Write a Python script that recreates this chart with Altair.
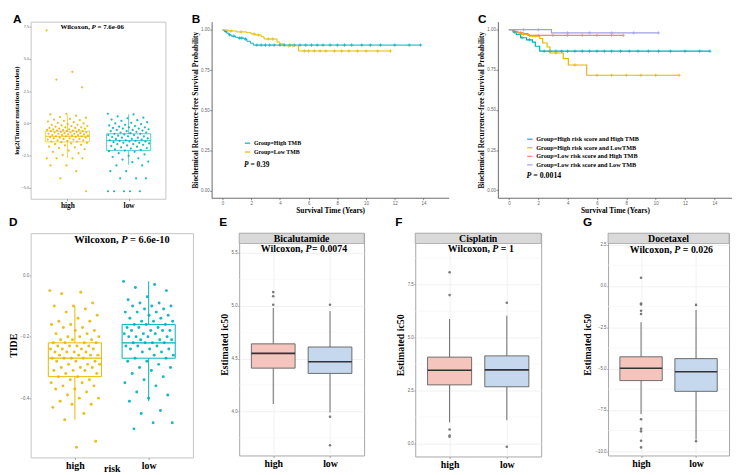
import altair as alt
import pandas as pd

SERIF = "Liberation Serif"
SANS = "Liberation Sans"
GOLD = "#E7B800"
TEAL = "#00AFBB"
SALMON = "#F4886B"
LAVENDER = "#A0A0E6"
PINK = "#F5C5BD"
LIGHTBLUE = "#C6D8EE"
STRIP_H = 10.5

groups = ["high", "low"]
group_pos = [1, 2]

# ---------------- Panel A : log2(TMB) by risk group ----------------
a_letter = "A"
a_ytitle = "log2(Tumor mutation burden)"
a_stat = ["Wilcoxon,", "P", "= 7.6e-06"]
a_high = [7.2, 4.0, 3.4, 2.8, 0.75, 0.7, 0.6, 0.5, 0.45, 0.35, 0.3, 0.25, 0.2, 0.15, 0.1, 0.05, 0.0,
          -0.05, -0.1, -0.1, -0.15, -0.2, -0.2, -0.25, -0.3, -0.3, -0.35, -0.35, -0.4, -0.4, -0.45,
          -0.45, -0.5, -0.5, -0.5, -0.55, -0.55, -0.6, -0.6, -0.6, -0.65, -0.65, -0.7, -0.7, -0.7,
          -0.75, -0.75, -0.8, -0.8, -0.8, -0.85, -0.85, -0.9, -0.9, -0.9, -0.95, -0.95, -1.0, -1.0,
          -1.0, -1.05, -1.05, -1.1, -1.1, -1.15, -1.15, -1.2, -1.2, -1.25, -1.25, -1.3, -1.3, -1.35,
          -1.4, -1.4, -1.45, -1.5, -1.55, -1.6, -1.65, -1.7, -1.8, -1.85, -1.9, -2.0, -2.1, -2.2,
          -2.3, -2.45, -2.7, -2.7, -2.7, -2.7, -3.25, -3.25, -3.7, -4.25, -5.25]
a_low = [0.75, 0.7, 0.55, 0.45, 0.4, 0.3, 0.25, 0.2, 0.1, 0.05, 0.0, -0.05, -0.1, -0.15, -0.2, -0.25,
         -0.3, -0.3, -0.35, -0.4, -0.4, -0.45, -0.5, -0.5, -0.55, -0.6, -0.6, -0.65, -0.7, -0.7, -0.75,
         -0.8, -0.8, -0.85, -0.9, -0.9, -0.95, -1.0, -1.0, -1.05, -1.1, -1.1, -1.15, -1.2, -1.2, -1.25,
         -1.3, -1.3, -1.35, -1.35, -1.4, -1.4, -1.45, -1.5, -1.5, -1.55, -1.6, -1.6, -1.65, -1.7, -1.75,
         -1.8, -1.85, -1.9, -1.95, -2.0, -2.05, -2.1, -2.15, -2.2, -2.3, -2.4, -2.5, -2.6, -2.7, -2.8,
         -2.95, -3.0, -3.25, -3.25, -3.7, -3.7, -4.25, -4.25, -4.25, -5.25, -5.25, -5.25, -5.25, -5.25]
a_q1 = [-1.43, -2.09]
a_med = [-1.0, -1.33]
a_q3 = [-0.6, -0.8]
a_lo = [-2.69, -3.2]
a_hi = [0.7, 0.7]
a_ydom = [-5.83, 7.88]
a_yticks = [-5.0, -2.5, 0.0, 2.5, 5.0, 7.5]

# ---------------- Panel B : KM by TMB ----------------
b_letter = "B"
b_names = ["Group=High TMB", "Group=Low TMB"]
b_high_t = [0, 0.15, 0.3, 0.45, 0.6, 0.9, 1.07, 1.5, 1.7, 1.95, 2.15, 13.8]
b_high_s = [1.0, 0.99, 0.98, 0.97, 0.962, 0.955, 0.95, 0.944, 0.93, 0.918, 0.906, 0.906]
b_low_t = [0, 0.4, 1.0, 1.7, 2.0, 2.3, 2.7, 2.9, 3.8, 4.0, 4.3, 5.3, 11.7]
b_low_s = [1.0, 0.994, 0.988, 0.983, 0.975, 0.969, 0.958, 0.944, 0.925, 0.913, 0.902, 0.869, 0.869]
b_high_cens = [0.25, 0.5, 0.8, 1.2, 1.35, 1.6, 2.4, 2.7, 3.0, 3.3, 3.6, 4.0, 4.3, 4.7, 5.0, 5.4, 5.8,
               6.2, 6.6, 7.0, 7.5, 8.0, 8.5, 9.0, 9.7, 10.3, 11.0, 12.0, 13.0, 13.8]
b_low_cens = [0.6, 1.3, 2.2, 2.5, 3.2, 3.5, 4.6, 4.9, 5.7, 6.0, 6.4, 6.8, 7.2, 7.8, 8.3, 8.8, 9.4,
              10.0, 10.8, 11.7]
b_p = ["P", "= 0.39"]

# ---------------- Panel C : KM by risk x TMB ----------------
c_letter = "C"
c_names = ["Group=High risk score and High TMB", "Group=High risk score and LowTMB",
           "Group=Low risk score and High TMB", "Group=Low risk score and Low TMB"]
c_hh_t = [0, 0.3, 0.5, 0.8, 1.2, 1.6, 1.8, 2.1, 13.7]
c_hh_s = [1.0, 0.985, 0.97, 0.95, 0.937, 0.922, 0.897, 0.866, 0.866]
c_hl_t = [0, 0.4, 0.85, 1.4, 2.1, 2.3, 2.6, 2.8, 3.7, 4.05, 5.3, 11.6]
c_hl_s = [1.0, 0.984, 0.97, 0.96, 0.945, 0.917, 0.892, 0.855, 0.82, 0.78, 0.716, 0.716]
c_lh_t = [0, 0.25, 0.6, 1.0, 1.3, 7.8]
c_lh_s = [1.0, 0.99, 0.98, 0.975, 0.965, 0.965]
c_ll_t = [0, 2.9, 10.2]
c_ll_s = [1.0, 0.98, 0.98]
c_hh_cens = [0.4, 0.9, 1.4, 2.4, 2.8, 3.2, 3.6, 4.0, 4.5, 5.0, 5.5, 6.0, 6.5, 7.0, 7.6, 8.2, 8.8, 9.5,
             10.2, 11.0, 12.0, 13.0, 13.7]
c_hl_cens = [1.0, 1.8, 3.2, 4.5, 6.0, 7.0, 8.0, 9.0, 10.0, 11.6]
c_lh_cens = [0.8, 2.0, 3.0, 4.0, 5.0, 6.0, 7.0, 7.8]
c_ll_cens = [1.0, 2.0, 4.0, 5.5, 7.0, 8.5, 10.2]
c_p = ["P", "= 0.0014"]

km_xtitle = "Survival Time (Years)"
km_ytitle = "Biochemical Recurrence-free Survival Probability"
km_xticks = [0, 2, 4, 6, 8, 10, 12, 14]
km_yticks = [0.0, 0.25, 0.5, 0.75, 1.0]

# ---------------- Panel D : TIDE by risk ----------------
d_letter = "D"
d_stat = ["Wilcoxon,", "P", "= 6.6e-10"]
d_high = [-0.05, -0.055, -0.06, -0.09, -0.10, -0.10, -0.11, -0.12, -0.13, -0.14, -0.15, -0.15, -0.16,
          -0.16, -0.17, -0.17, -0.18, -0.18, -0.19, -0.19, -0.20, -0.20, -0.20, -0.21, -0.21, -0.21,
          -0.22, -0.22, -0.22, -0.22, -0.23, -0.23, -0.23, -0.23, -0.24, -0.24, -0.24, -0.24, -0.25,
          -0.25, -0.25, -0.25, -0.26, -0.26, -0.26, -0.26, -0.27, -0.27, -0.27, -0.27, -0.28, -0.28,
          -0.28, -0.29, -0.29, -0.29, -0.30, -0.30, -0.30, -0.31, -0.31, -0.31, -0.32, -0.32, -0.33,
          -0.33, -0.34, -0.34, -0.35, -0.35, -0.36, -0.36, -0.37, -0.37, -0.38, -0.39, -0.40, -0.40,
          -0.41, -0.42, -0.42, -0.43, -0.45, -0.47, -0.54, -0.56]
d_low = [-0.02, -0.03, -0.04, -0.05, -0.07, -0.08, -0.09, -0.09, -0.10, -0.10, -0.10, -0.11, -0.11,
         -0.12, -0.12, -0.12, -0.13, -0.13, -0.14, -0.14, -0.15, -0.15, -0.15, -0.16, -0.16, -0.16,
         -0.17, -0.17, -0.17, -0.18, -0.18, -0.18, -0.18, -0.19, -0.19, -0.19, -0.20, -0.20, -0.20,
         -0.20, -0.21, -0.21, -0.21, -0.22, -0.22, -0.22, -0.22, -0.23, -0.23, -0.23, -0.24, -0.24,
         -0.24, -0.25, -0.25, -0.26, -0.26, -0.27, -0.27, -0.28, -0.28, -0.29, -0.30, -0.30, -0.31,
         -0.32, -0.33, -0.34, -0.35, -0.36, -0.38, -0.39, -0.40, -0.41, -0.44, -0.45, -0.48, -0.48, -0.50]
d_q1 = [-0.33, -0.27]
d_med = [-0.27, -0.22]
d_q3 = [-0.22, -0.16]
d_lo = [-0.47, -0.41]
d_hi = [-0.10, -0.02]
d_ydom = [-0.593, 0.137]
d_yticks = [-0.4, -0.2, 0.0]

# ---------------- Panels E, F, G : drug sensitivity ----------------
e_letter, e_drug = "E", "Bicalutamide"
e_stat = ["Wilcoxon,", "P", "= 0.0074"]
e_q1 = [4.41, 4.36]; e_med = [4.55, 4.47]; e_q3 = [4.64, 4.61]; e_lo = [4.07, 3.99]; e_hi = [4.98, 4.95]
e_out_high = [5.13, 5.09, 5.01]
e_out_low = [5.01, 3.95, 3.68]
e_ydom = [3.583, 5.688]
e_yticks = [4.0, 4.5, 5.0, 5.5]
e_minor = [3.75, 4.25, 4.75, 5.25]

f_letter, f_drug = "F", "Cisplatin"
f_stat = ["Wilcoxon,", "P", "= 1"]
f_q1 = [2.77, 2.68]; f_med = [3.46, 3.48]; f_q3 = [4.08, 4.14]; f_lo = [1.0, 1.1]; f_hi = [5.88, 6.04]
f_out_high = [8.09, 7.01, 0.66, 0.38, 0.32]
f_out_low = [6.65, -0.15]
f_ydom = [-0.61, 9.935]
f_yticks = [0.0, 2.5, 5.0, 7.5]
f_minor = [1.25, 3.75, 6.25, 8.75]

g_letter, g_drug = "G", "Docetaxel"
g_stat = ["Wilcoxon,", "P", "= 0.026"]
g_q1 = [-5.73, -6.38]; g_med = [-4.98, -5.19]; g_q3 = [-4.29, -4.4]; g_lo = [-7.76, -9.3]; g_hi = [-2.2, -1.45]
g_out_high = [0.49, -1.07, -1.12, -1.5, -1.7, -8.07, -8.64, -8.8, -9.37, -9.77]
g_out_low = [-1.15, -9.4]
g_ydom = [-10.26, 3.19]
g_yticks = [-10.0, -7.5, -5.0, -2.5, 0.0, 2.5]
g_minor = [-8.75, -6.25, -3.75, -1.25, 1.25]

ic50_title = "Estimated ic50"


# ======================= helpers =======================
def pts_df(vals_by_group):
    rows = []
    for g, p, vals in zip(groups, group_pos, vals_by_group):
        for i, v in enumerate(vals):
            rows.append({"group": g, "pos": p, "value": v, "idx": i})
    return pd.DataFrame(rows)


def box_df(q1, med, q3, lo, hi):
    return pd.DataFrame({"group": groups, "pos": group_pos, "q1": q1, "med": med,
                         "q3": q3, "lo": lo, "hi": hi})


def letter_title(letter, offset):
    return alt.TitleParams(text=letter, anchor="start", frame="bounds", font=SANS, fontSize=12,
                           fontWeight="bold", color="black", offset=offset)


def stat_layers(parts, px, py, fs, space_after_p=True):
    wp = 0.611 * fs
    sp = 0.25 * fs
    specs = [(parts[0], px - sp, "right", "normal"),
             (parts[1], px, "left", "italic"),
             (parts[2], px + wp + (sp if space_after_p else 0.5), "left", "normal")]
    out = []
    for txt, x, al, st in specs:
        out.append(alt.Chart(pd.DataFrame({"t": [txt]})).mark_text(
            align=al, baseline="middle", font=SERIF, fontSize=fs, fontWeight="bold",
            fontStyle=st, color="black").encode(x=alt.value(x), y=alt.value(py), text="t:N"))
    return out


def p_layers(parts, px, py, fs):
    wp = 0.611 * fs
    sp = 0.25 * fs
    specs = [(parts[0], px, "italic"), (parts[1], px + wp + sp, "normal")]
    out = []
    for txt, x, st in specs:
        out.append(alt.Chart(pd.DataFrame({"t": [txt]})).mark_text(
            align="left", baseline="middle", font=SERIF, fontSize=fs, fontWeight="bold",
            fontStyle=st, color="black").encode(x=alt.value(x), y=alt.value(py), text="t:N"))
    return out


def cat_axis(fs, title_fs=10, title_pad=0, grid=False):
    return alt.Axis(values=[1, 2], labelExpr="datum.value == 1 ? 'high' : 'low'",
                    labelFont=SERIF, labelFontSize=fs, labelFontWeight="bold", labelColor="black",
                    labelPadding=1, tickSize=2, tickColor="#666", tickWidth=0.6, domain=False,
                    grid=grid, gridColor="#EBEBEB", gridWidth=0.7,
                    titleFont=SERIF, titleFontSize=title_fs, titleFontWeight="bold",
                    titleColor="black", titlePadding=title_pad)


def val_axis(values, fmt, title_fs, label_fs=4.5, title_pad=1, grid=False):
    return alt.Axis(values=values, format=fmt, labelFont=SANS, labelFontSize=label_fs,
                    labelColor="#666", labelPadding=0.5, tickSize=1.5, tickColor="#777",
                    tickWidth=0.6, domain=False, grid=grid, gridColor="#EBEBEB", gridWidth=0.7,
                    titleFont=SERIF, titleFontSize=title_fs, titleFontWeight="bold",
                    titleColor="black", titlePadding=title_pad)


def jitter_panel(letter, vals, q1, med, q3, lo, hi, ydom, yticks, ytitle, ytitle_fs, ylab_fs,
                 xlab_fs, xtitle, xtitle_fs, xtitle_pad, stat, stat_px, stat_py, stat_fs,
                 w, h, pt_size, box_op, half, title_offset):
    pts = pts_df(vals)
    bx = box_df(q1, med, q3, lo, hi)
    xsc = alt.Scale(domain=[0.4, 2.6], nice=False, zero=False)
    ysc = alt.Scale(domain=ydom, nice=False, zero=False)
    xa = cat_axis(xlab_fs, title_fs=xtitle_fs, title_pad=xtitle_pad)
    ya = val_axis(yticks, ".1f", ytitle_fs, label_fs=ylab_fs)

    def X(f):
        return alt.X(f"{f}:Q", scale=xsc, axis=xa, title=xtitle)

    def Y(f):
        return alt.Y(f"{f}:Q", scale=ysc, axis=ya, title=ytitle)

    col = alt.Color("group:N", scale=alt.Scale(domain=groups, range=[GOLD, TEAL]), legend=None)
    bbase = alt.Chart(bx).transform_calculate(x1=f"datum.pos - {half}", x2=f"datum.pos + {half}")
    layers = [
        alt.Chart(bx).mark_rule(strokeWidth=1, opacity=box_op).encode(x=X("pos"), y=Y("q3"), y2="hi:Q", color=col),
        alt.Chart(bx).mark_rule(strokeWidth=1, opacity=box_op).encode(x=X("pos"), y=Y("lo"), y2="q1:Q", color=col),
        bbase.mark_rect(filled=False, strokeWidth=1, opacity=box_op).encode(
            x=X("x1"), x2="x2:Q", y=Y("q1"), y2="q3:Q", color=col),
        bbase.mark_rule(strokeWidth=1.2, opacity=box_op).encode(x=X("x1"), x2="x2:Q", y=Y("med"), color=col),
        alt.Chart(pts).transform_calculate(
            xj="datum.pos + ((datum.idx * 0.6180339) % 1 - 0.5) * 0.68"
        ).mark_circle(size=pt_size, opacity=0.9).encode(x=X("xj"), y=Y("value"), color=col),
    ]
    layers += stat_layers(stat, stat_px, stat_py, stat_fs)
    return alt.layer(*layers).properties(
        width=w, height=h, title=letter_title(letter, title_offset),
        view=alt.ViewBackground(stroke="#C4C4C4", strokeWidth=1))


def drug_panel(letter, drug, q1, med, q3, lo, hi, out_high, out_low, ydom, yticks, minor,
               stat, stat_px, stat_py, w, h, space_after_p=True):
    bx = box_df(q1, med, q3, lo, hi)
    orows = [{"group": "high", "pos": 1, "value": v} for v in out_high] + \
            [{"group": "low", "pos": 2, "value": v} for v in out_low]
    outs = pd.DataFrame(orows)
    xsc = alt.Scale(domain=[0.4, 2.6], nice=False, zero=False)
    ysc = alt.Scale(domain=ydom, nice=False, zero=False)
    xa = cat_axis(10, grid=True)
    ya = val_axis(yticks, ".1f", 10, grid=True, title_pad=2)

    def X(f):
        return alt.X(f"{f}:Q", scale=xsc, axis=xa, title=None)

    def Y(f):
        return alt.Y(f"{f}:Q", scale=ysc, axis=ya, title=ic50_title)

    fillc = alt.Color("group:N", scale=alt.Scale(domain=groups, range=[PINK, LIGHTBLUE]), legend=None)
    bbase = alt.Chart(bx).transform_calculate(x1="datum.pos - 0.385", x2="datum.pos + 0.385")
    layers = [
        alt.Chart(pd.DataFrame({"m": minor})).mark_rule(color="#F3F3F3", strokeWidth=0.6).encode(y=Y("m")),
        alt.Chart(bx).mark_rule(strokeWidth=0.9, color="#595959").encode(x=X("pos"), y=Y("q3"), y2="hi:Q"),
        alt.Chart(bx).mark_rule(strokeWidth=0.9, color="#595959").encode(x=X("pos"), y=Y("lo"), y2="q1:Q"),
        bbase.mark_rect(stroke="#5E5E5E", strokeWidth=0.9).encode(
            x=X("x1"), x2="x2:Q", y=Y("q1"), y2="q3:Q", color=fillc),
        bbase.mark_rule(strokeWidth=1.6, color="#333333").encode(x=X("x1"), x2="x2:Q", y=Y("med")),
        alt.Chart(outs).mark_circle(size=7, color="#7A7A7A", opacity=1).encode(x=X("pos"), y=Y("value")),
        alt.Chart(pd.DataFrame({"t": [drug]})).mark_rect(
            fill="#D9D9D9", stroke="#A3A3A3", strokeWidth=0.8).encode(
            x=alt.value(0), x2=alt.value(w), y=alt.value(0), y2=alt.value(STRIP_H)),
        alt.Chart(pd.DataFrame({"t": [drug]})).mark_text(
            font=SERIF, fontSize=10, fontWeight="bold", baseline="middle", color="black").encode(
            x=alt.value(w / 2), y=alt.value(STRIP_H / 2 + 0.5), text="t:N"),
    ]
    layers += stat_layers(stat, stat_px, stat_py, 10, space_after_p)
    return alt.layer(*layers).properties(
        width=w, height=h, title=letter_title(letter, 4),
        view=alt.ViewBackground(stroke="#A6A6A6", strokeWidth=1))


def step_value(ts, ss, t):
    v = ss[0]
    for ti, si in zip(ts, ss):
        if ti <= t:
            v = si
    return v


def km_panel(letter, names, colors, times, survs, cens, xdom, ydom, w, h, leg_x, leg_y, leg_fs,
             leg_rowpad, p_parts, p_x, p_y, p_fs, lw):
    line_rows, cens_rows = [], []
    for n, ts, ss, cs in zip(names, times, survs, cens):
        for t, s in zip(ts, ss):
            line_rows.append({"grp": n, "t": t, "s": s})
        for c in cs:
            cens_rows.append({"grp": n, "t": c, "s": step_value(ts, ss, c)})
    xsc = alt.Scale(domain=xdom, nice=False, zero=False)
    ysc = alt.Scale(domain=ydom, nice=False, zero=False)
    xa = alt.Axis(values=km_xticks, format="d", labelFont=SANS, labelFontSize=4.5, labelColor="#666",
                  labelPadding=0.5, tickSize=2, tickColor="#444", tickWidth=0.6, domainColor="#444",
                  domainWidth=0.8, grid=False, titleFont=SERIF, titleFontSize=7.5,
                  titleFontWeight="bold", titleColor="black", titlePadding=2)
    ya = alt.Axis(values=km_yticks, format=".2f", labelFont=SANS, labelFontSize=4.5, labelColor="#666",
                  labelPadding=0.5, tickSize=2, tickColor="#444", tickWidth=0.6, domainColor="#444",
                  domainWidth=0.8, grid=False, titleFont=SERIF, titleFontSize=7.5,
                  titleFontWeight="bold", titleColor="black", titlePadding=1)
    X = alt.X("t:Q", scale=xsc, axis=xa, title=km_xtitle)
    Y = alt.Y("s:Q", scale=ysc, axis=ya, title=km_ytitle)
    legend = alt.Legend(orient="none", legendX=leg_x, legendY=leg_y, title=None, symbolType="stroke",
                        symbolSize=30, symbolStrokeWidth=1.2, labelFont=SERIF, labelFontSize=leg_fs,
                        labelFontWeight="bold", labelColor="black", rowPadding=leg_rowpad,
                        labelOffset=3, padding=0, labelLimit=400)
    lines = alt.Chart(pd.DataFrame(line_rows)).mark_line(
        interpolate="step-after", strokeWidth=lw).encode(
        x=X, y=Y, color=alt.Color("grp:N", scale=alt.Scale(domain=names, range=colors), legend=legend))
    ticks = alt.Chart(pd.DataFrame(cens_rows)).mark_point(
        shape="M0,-1L0,1M-1,0L1,0", filled=False, size=12, strokeWidth=0.7, opacity=1).encode(
        x=X, y=Y, stroke=alt.Stroke("grp:N", scale=alt.Scale(domain=names, range=colors), legend=None))
    layers = [lines, ticks] + p_layers(p_parts, p_x, p_y, p_fs)
    return alt.layer(*layers).properties(
        width=w, height=h, title=letter_title(letter, -4),
        view=alt.ViewBackground(strokeOpacity=0))


# ======================= panels =======================
pA = jitter_panel(a_letter, [a_high, a_low], a_q1, a_med, a_q3, a_lo, a_hi, a_ydom, a_yticks,
                  a_ytitle, 7, 4, 7.5, None, 7, 0, a_stat, 62, 5, 7, 137, 180, 5, 0.65, 0.36, -4)

pB = km_panel(b_letter, b_names, [TEAL, GOLD], [b_high_t, b_low_t], [b_high_s, b_low_s],
              [b_high_cens, b_low_cens], [-0.75, 15.75], [-0.046, 1.052], 241, 179,
              33, 120, 6, 2, b_p, 33, 146, 7.5, 1.0)

pC = km_panel(c_letter, c_names, [TEAL, GOLD, SALMON, LAVENDER],
              [c_hh_t, c_hl_t, c_lh_t, c_ll_t], [c_hh_s, c_hl_s, c_lh_s, c_ll_s],
              [c_hh_cens, c_hl_cens, c_lh_cens, c_ll_cens], [-0.75, 15.2], [-0.047, 1.05], 238, 179,
              29, 116, 6.3, 1.7, c_p, 29, 156.5, 8, 1.2)

pD = jitter_panel(d_letter, [d_high, d_low], d_q1, d_med, d_q3, d_lo, d_hi, d_ydom, d_yticks,
                  "TIDE", 10, 4.5, 10, "risk", 10, -7, d_stat, 92, 7, 10.5, 165, 228, 9, 1.0, 0.36, 4)

pE = drug_panel(e_letter, e_drug, e_q1, e_med, e_q3, e_lo, e_hi, e_out_high, e_out_low, e_ydom,
                e_yticks, e_minor, e_stat, 67.4, 16.5, 127, 226, space_after_p=False)
pF = drug_panel(f_letter, f_drug, f_q1, f_med, f_q3, f_lo, f_hi, f_out_high, f_out_low, f_ydom,
                f_yticks, f_minor, f_stat, 78.4, 16, 128, 227)
pG = drug_panel(g_letter, g_drug, g_q1, g_med, g_q3, g_lo, g_hi, g_out_high, g_out_low, g_ydom,
                g_yticks, g_minor, g_stat, 67.4, 17, 123, 226)


def ind(c):
    return c.resolve_scale(color="independent", stroke="independent")


top = ind(alt.hconcat(ind(alt.hconcat(pA, pB, spacing=25)), pC, spacing=29))
bottom = ind(alt.hconcat(ind(alt.hconcat(ind(alt.hconcat(pD, pE, spacing=25)), pF, spacing=30)),
                         pG, spacing=41))

chart = ind(alt.vconcat(top, bottom, spacing=1)).properties(
    padding={"left": 0, "top": 0, "right": 0, "bottom": 0}
).configure(font=SERIF)

chart.save("out.html", embed_options={"renderer": "svg", "actions": False})
